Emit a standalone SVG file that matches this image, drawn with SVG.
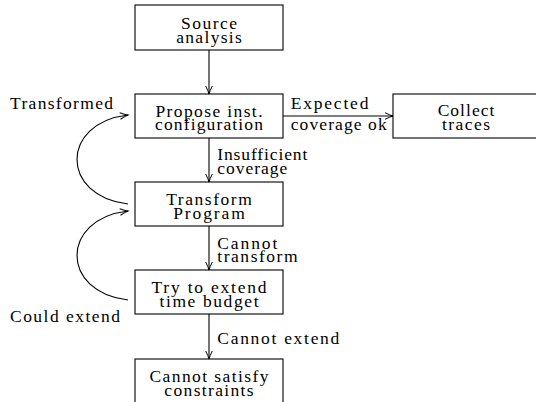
<svg xmlns="http://www.w3.org/2000/svg" width="536" height="402" viewBox="0 0 536 402">
<style>
.t text{font-family:"Liberation Serif","DejaVu Serif",serif;font-size:17.5px;fill:#000}
.n text{text-anchor:middle}
.n rect{fill:#fff;stroke:#000;stroke-width:1.1}
.c path{fill:none;stroke:#000;stroke-width:1.1}
</style>
<defs>
<marker id="ar" markerUnits="userSpaceOnUse" markerWidth="12" markerHeight="10" viewBox="-10 -5 12 10" refX="0" refY="0" orient="auto">
<path d="M-8,-3.3 Q-3,-0.8 0,0 Q-3,0.8 -8,3.3" fill="none" stroke="#000" stroke-width="1"/>
</marker>
</defs>
<rect x="0" y="0" width="536" height="402" fill="#fff"/>
<g class="c" id="connectors">
<path d="M209,50 V94" marker-end="url(#ar)"/>
<path d="M209,138 V182" marker-end="url(#ar)"/>
<path d="M209,226 V270" marker-end="url(#ar)"/>
<path d="M209,314 V359" marker-end="url(#ar)"/>
<path d="M283,116 H393" marker-end="url(#ar)"/>
<path d="M128,204 C60,196 60,123 128,115" marker-end="url(#ar)"/>
<path d="M128,300 C60,292 60,219 128,211" marker-end="url(#ar)"/>
</g>
<g id="labels" class="t">
<text x="10" y="109" textLength="103" lengthAdjust="spacing">Transformed</text>
<text x="10" y="321.5" textLength="110" lengthAdjust="spacing">Could extend</text>
<text x="290.7" y="109.3" textLength="77.7" lengthAdjust="spacing">Expected</text>
<text x="290.7" y="130" textLength="96" lengthAdjust="spacing">coverage ok</text>
<text x="217.3" y="160" textLength="90" lengthAdjust="spacing">Insufficient</text>
<text x="217.3" y="174" textLength="70" lengthAdjust="spacing">coverage</text>
<text x="217.3" y="248.8" textLength="60" lengthAdjust="spacing">Cannot</text>
<text x="217.3" y="262" textLength="80.3" lengthAdjust="spacing">transform</text>
<text x="217.3" y="344" textLength="122" lengthAdjust="spacing">Cannot extend</text>
</g>
<g class="n t" id="source">
<rect x="135" y="5" width="148" height="45"/>
<text x="209" y="28.8" textLength="56" lengthAdjust="spacing">Source</text>
<text x="209" y="42.5" textLength="65.7" lengthAdjust="spacing">analysis</text>
</g>
<g class="n t" id="propose">
<rect x="135" y="94" width="148" height="44"/>
<text x="209" y="116.8" textLength="107" lengthAdjust="spacing">Propose inst.</text>
<text x="209" y="130.3" textLength="108" lengthAdjust="spacing">configuration</text>
</g>
<g class="n t" id="collect">
<rect x="393" y="94" width="150" height="44"/>
<text x="466" y="115.8" textLength="56.7" lengthAdjust="spacing">Collect</text>
<text x="466" y="130" textLength="48" lengthAdjust="spacing">traces</text>
</g>
<g class="n t" id="transform">
<rect x="135" y="182" width="148" height="44"/>
<text x="209" y="204.5" textLength="85.7" lengthAdjust="spacing">Transform</text>
<text x="209" y="218.8" textLength="71.7" lengthAdjust="spacing">Program</text>
</g>
<g class="n t" id="extend">
<rect x="135" y="270" width="148" height="44"/>
<text x="209" y="292.7" textLength="115" lengthAdjust="spacing">Try to extend</text>
<text x="209" y="306.5" textLength="99" lengthAdjust="spacing">time budget</text>
</g>
<g class="n t" id="fail">
<rect x="135" y="359" width="148" height="50"/>
<text x="209" y="381.7" textLength="119" lengthAdjust="spacing">Cannot satisfy</text>
<text x="209" y="395.7" textLength="89.3" lengthAdjust="spacing">constraints</text>
</g>
</svg>
